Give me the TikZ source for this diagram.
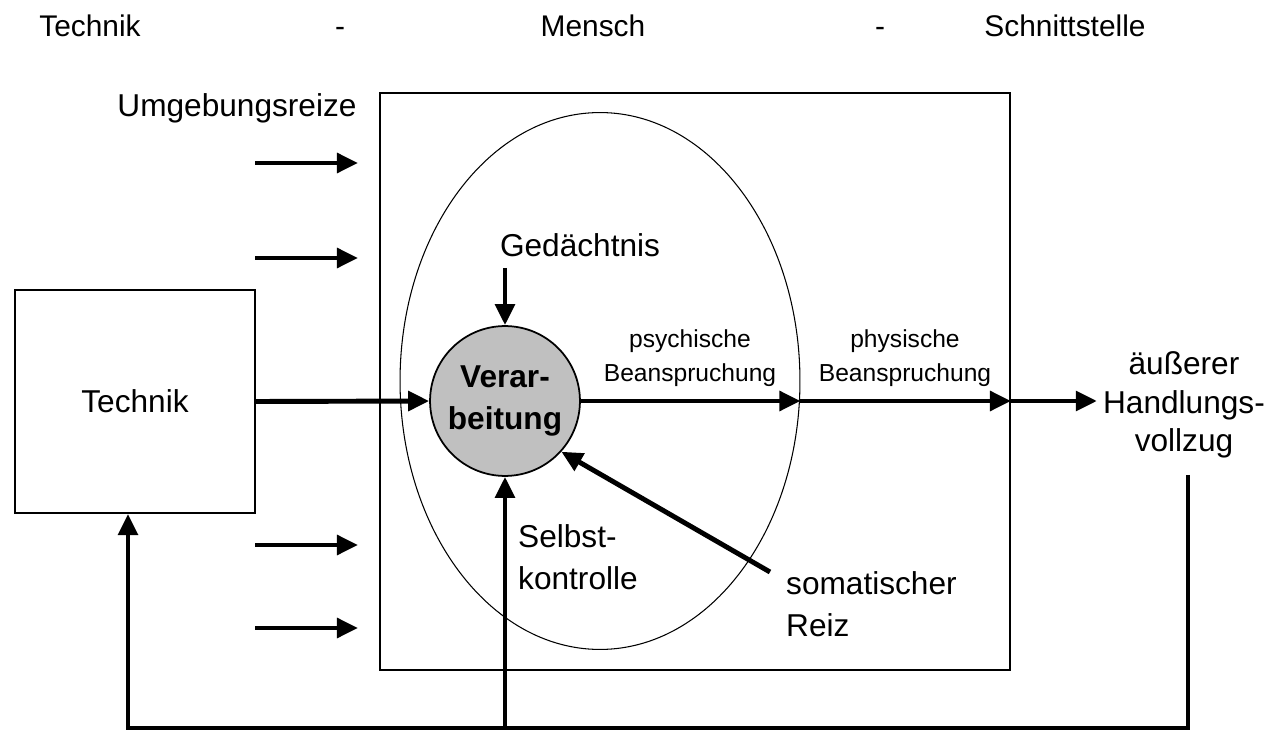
\documentclass[tikz,border=0pt]{standalone}
\usepackage{fontspec}
\setmainfont{Liberation Sans}
\usepackage{tikz}
\usetikzlibrary{arrows.meta,shapes,positioning}
\definecolor{kreisgrau}{RGB}{192,192,192}

\begin{document}
\begin{tikzpicture}[x=0.02cm,y=-0.02cm]
\tikzstyle{titel}=[font=\fontsize{17}{20}\selectfont,anchor=base]
\tikzstyle{big}=[font=\fontsize{18}{22}\selectfont]
\tikzstyle{small}=[font=\fontsize{14}{19}\selectfont,align=center]
\tikzstyle{frame}=[draw,line width=1.2pt]
\tikzstyle{linie}=[line width=2.8pt]
\tikzstyle{pfeil}=[line width=2.8pt,-{Triangle[length=12pt,width=11pt]}]
\useasboundingbox (0,0) rectangle (1269,733);
% Kopfzeile
\node [titel] (titelT) at (90,37) {Technik};
\node [titel] (strich1) at (340,37) {-};
\node [titel] (titelM) at (593,37) {Mensch};
\node [titel] (strich2) at (880,37) {-};
\node [titel] (titelS) at (1065,37) {Schnittstelle};
% Mensch
\node [frame,minimum width=12.6cm,minimum height=11.54cm] (mensch) at (695,381.5) {};
\node [draw,ellipse,line width=0.6pt,minimum width=8cm,minimum height=10.74cm] (oval) at (600,381) {};
\node [frame,big,minimum width=4.8cm,minimum height=4.46cm] (technik) at (135,401.5) {Technik};
\node [circle,draw,fill=kreisgrau,line width=1pt,minimum size=2.92cm,align=center,
       font=\fontsize{18}{24}\selectfont\bfseries] (verarb) at (505,401) {Verar-\\beitung};
\node [big] (umgebung) at (237,108) {Umgebungsreize};
\node [big] (gedaechtnis) at (580,245) {Gedächtnis};
\node [small] (psych) at (690,358) {psychische\\Beanspruchung};
\node [small] (phys) at (905,358) {physische\\Beanspruchung};
\node [big,align=center] (handlung) at (1184,405) {äußerer\\Handlungs-\\vollzug};
\node [font=\fontsize{18}{24}\selectfont,align=left,anchor=west] (selbst) at (512,557) {Selbst-\\kontrolle};
\node [font=\fontsize{18}{24}\selectfont,align=left,anchor=west] (soma) at (780,604) {somatischer\\Reiz};
% Reize von aussen
\foreach \y/\n in {163/1,258/2,545/3,628/4} {
  \coordinate (reiz\n) at (255,\y);
  \coordinate (reizend\n) at (358,\y);
  \draw[pfeil] (reiz\n) -- (reizend\n);
}
\coordinate (gedstart) at (505,268);
\coordinate (somastart) at (770,572);
\coordinate (rueck) at (1188,475);
\coordinate (ecke1) at (1188,728);
\coordinate (ecke2) at (128,728);
\draw[pfeil] (technik.east) -- (verarb.west);
\draw[pfeil] (gedstart) -- (verarb.north);
\draw[pfeil] (somastart) -- (verarb.-42);
\draw[pfeil]
  (verarb.east) -- (verarb.east -| oval.east);
\draw[pfeil]
  (verarb.east -| oval.east) -- (verarb.east -| mensch.east);
\draw[pfeil]
  (verarb.east -| mensch.east) -- (verarb.east -| handlung.west);
% Rueckkopplung
\draw[pfeil] (rueck) -- (ecke1) -- (ecke2) -- (ecke2 |- technik.south);
\draw[pfeil] (verarb.south |- ecke1) -- (verarb.south);
\end{tikzpicture}
\end{document}
